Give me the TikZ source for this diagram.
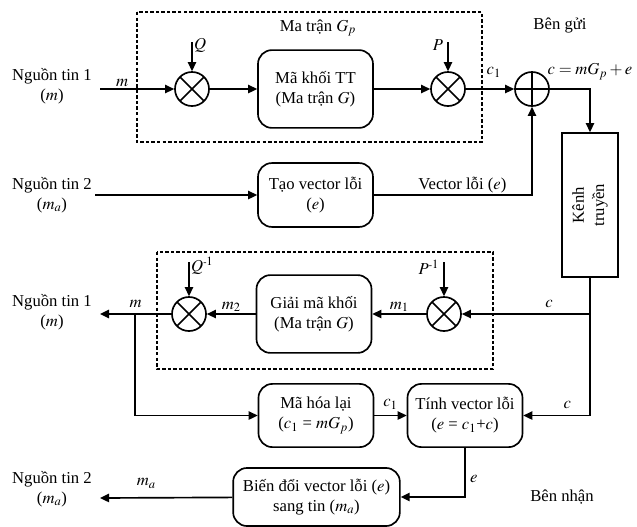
\documentclass[tikz,border=0pt]{standalone}
\usepackage{mathptmx}
\usepackage{fontspec}
\setmainfont{Liberation Serif}
\usetikzlibrary{arrows.meta, positioning, calc}

\begin{document}
\begin{tikzpicture}[
        x=0.72pt, y=-0.72pt,
        font=\fontsize{12}{14.5}\selectfont,
        box/.style={rectangle, draw, line width=1.2pt, rounded corners=10pt, align=center, inner sep=1pt, minimum width=82.8pt, minimum height=56pt},
        smallbox/.style={box, minimum height=45.5pt},
        chanbox/.style={rectangle, draw, line width=1.2pt, minimum width=40.3pt, minimum height=103.7pt},
        mult/.style={circle, draw, line width=1.2pt, minimum size=24.5pt, inner sep=0pt,
            path picture={\draw[line width=1.2pt] (path picture bounding box.south west) -- (path picture bounding box.north east) (path picture bounding box.north west) -- (path picture bounding box.south east);}},
        xorop/.style={circle, draw, line width=1.2pt, minimum size=24.5pt, inner sep=0pt,
            path picture={\draw[line width=1.2pt] (path picture bounding box.west) -- (path picture bounding box.east) (path picture bounding box.north) -- (path picture bounding box.south);}},
        dashbox/.style={draw, line width=1pt, dash pattern=on 2.5pt off 1.5pt},
        src/.style={align=center, inner sep=0pt},
        lbl/.style={inner sep=1pt},
        arrow/.style={-{Triangle[length=6.5pt, width=6pt]}, line width=1.2pt},
        line/.style={line width=1.2pt}
    ]
    \useasboundingbox (0,0) rectangle (637,526);

    \draw[dashbox] (137,12) rectangle (482,142);
    \draw[dashbox] (157,252) rectangle (493,369);
    \node[lbl] (gptitle) at (318,28) {Ma trận $G_p$};
    \node[lbl] (sender) at (560,25) {Bên gửi};
    \node[lbl] (receiver) at (562,497) {Bên nhận};

    \node[src] (src1) at (52,86) {Nguồn tin 1\\($m$)};
    \node[src] (src2) at (52,195) {Nguồn tin 2\\($m_a$)};
    \node[src] (dst1) at (52,312) {Nguồn tin 1\\($m$)};
    \node[src] (dst2) at (52,489) {Nguồn tin 2\\($m_a$)};

    \node[mult] (mq) at (192,89) {};
    \node[box] (encode) at (315.5,89) {Mã khối TT\\(Ma trận $G$)};
    \node[mult] (mp) at (448,89) {};
    \node[xorop] (plus) at (532,89) {};
    \node[chanbox] (channel) at (590,205) {};
    \node[rotate=90, align=center] (channeltxt) at (channel) {Kênh\\truyền};
    \node[smallbox, minimum height=46pt] (errgen) at (315.5,195) {Tạo vector lỗi\\($e$)};

    \node[mult] (mpi) at (444,314) {};
    \node[box] (decode) at (314,314) {Giải mã khối\\(Ma trận $G$)};
    \node[mult] (mqi) at (189,314) {};
    \node[smallbox] (reenc) at (316,415.5) {Mã hóa lại\\($c_1$ = $mG_p$)};
    \node[smallbox] (errcalc) at (465,415.5) {Tính vector lỗi\\($e$ = $c_1$+$c$)};
    \node[box, minimum width=120pt, minimum height=41.8pt] (convert) at (316.5,497) {Biến đổi vector lỗi ($e$)\\sang tin ($m_a$)};

    \coordinate (in1) at (100,89);
    \coordinate (in2) at (95,195);
    \coordinate (out1) at (100,314);
    \coordinate (out2) at (100,498);
    \coordinate (qin) at (192,42);
    \coordinate (pin) at (448,42);
    \coordinate (qiin) at (189,262);
    \coordinate (piin) at (444,262);
    \coordinate (branch) at (135,314);

    \draw[arrow] (qin) -- (mq) node[pos=0.1, right, lbl] (qlbl) {$Q$};
    \draw[arrow] (pin) -- (mp) node[pos=0.1, left=2pt, lbl] (plbl) {$P$};
    \draw[arrow] (qiin) -- (mqi) node[pos=0.1, right, lbl] (qilbl) {$Q^{\mbox{\scriptsize -}1}$};
    \draw[arrow] (piin) -- (mpi) node[pos=0.15, left=2pt, lbl] (pilbl) {$P^{\mbox{\scriptsize -}1}$};

    \draw[arrow] (in1) -- (mq) node[pos=0.3, above, lbl] (mlbl) {$m$};
    \draw[arrow] (mq) -- (encode);
    \draw[arrow] (encode) -- (mp);
    \draw[arrow] (mp) -- (plus) node[pos=0.58, above=7pt, lbl] (c1lbl) {$c_1$};
    \draw[arrow] (plus) -| (channel) node[pos=0.5, above=5pt, lbl] (clbl) {$c = mG_p + e$};
    \draw[arrow] (in2) -- (errgen);
    \draw[arrow] (errgen) -| (plus) node[pos=0.28, above, lbl] (elbl) {Vector lỗi ($e$)};

    \draw[arrow] (channel.south |- mpi) -- (mpi) node[pos=0.32, above=3pt, lbl] (cdlbl) {$c$};
    \draw[arrow] (mpi) -- (decode) node[midway, above, lbl] (m1lbl) {$m_1$};
    \draw[arrow] (decode) -- (mqi) node[midway, above, lbl] (m2lbl) {$m_2$};
    \draw[arrow] (mqi) -- (out1) node[pos=0.5, above=3pt, lbl] (moutlbl) {$m$};
    \draw[arrow] (branch) |- (reenc);
    \draw[arrow] (reenc) -- (errcalc) node[midway, above=3pt, lbl] (c1rlbl) {$c_1$};
    \draw[arrow] (channel.south) |- (errcalc) node[pos=0.67, above=3pt, lbl] (crlbl) {$c$};
    \draw[arrow] (errcalc) |- (convert) node[pos=0.32, right=2pt, lbl] (erlbl) {$e$};
    \draw[arrow] (convert) -- (out2) node[pos=0.65, above=5pt, lbl] (malbl) {$m_a$};

\end{tikzpicture}
\end{document}
